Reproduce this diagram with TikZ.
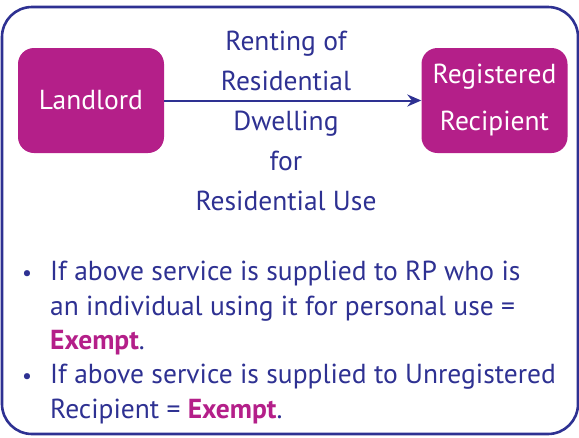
\documentclass[tikz,border=0pt]{standalone}
\usepackage{fontspec}
\setmainfont{PT Sans}
\usetikzlibrary{arrows.meta}
\definecolor{navy}{RGB}{46,49,146}
\definecolor{magen}{RGB}{180,31,137}
\tikzset{
  party/.style={fill=magen, draw=none, rounded corners=16pt, minimum width=146pt, minimum height=105pt, text=white, align=center, font=\fontsize{27.5}{47}\selectfont, inner sep=0pt},
  lbl/.style={text=navy, align=center, font=\fontsize{27.5}{40}\selectfont, inner sep=0pt},
  item/.style={text=navy, align=left, anchor=north west, font=\fontsize{27.5}{34.5}\selectfont, inner sep=0pt},
  bul/.style={text=navy, anchor=base west, font=\fontsize{22}{34.5}\selectfont, inner sep=0pt}
}
\begin{document}
\begin{tikzpicture}[x=1pt,y=-1pt]
\useasboundingbox (0,0) rectangle (579,437);
\draw[navy, line width=2.6pt, rounded corners=30pt] (2,7) rectangle (578,434);
\node[party] (ll) at (91,100.5) {Landlord};
\node[party] (rr) at (494.5,100.5) {Registered\\Recipient};
\draw[navy, line width=2pt, -{Stealth[length=14pt,width=12pt]}] (ll.east) -- (rr.west);
\node[lbl] (lab) at (286,121) {Renting of\\Residential\\Dwelling\\for\\Residential Use};
\node[bul] (b1) at (22,280) {\textbullet};
\node[item] (i1) at (50,261) {If above service is supplied to RP who is\\an individual using it for personal use =\\\textcolor{magen}{\textbf{Exempt}}.};
\node[bul] (b2) at (22,383) {\textbullet};
\node[item] (i2) at (50,364) {If above service is supplied to Unregistered\\Recipient = \textcolor{magen}{\textbf{Exempt}}.};
\end{tikzpicture}
\end{document}
